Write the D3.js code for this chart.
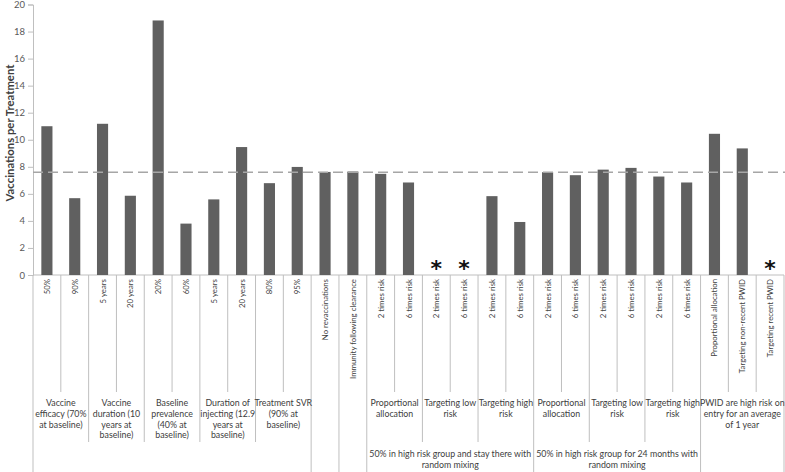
<!DOCTYPE html>
<html>
<head>
<meta charset="utf-8">
<script src="https://cdn.jsdelivr.net/npm/d3@7/dist/d3.min.js"></script>
<style>
  html, body { margin: 0; padding: 0; background: #fff; }
  svg { display: block; font-family: Lato, "Open Sans", sans-serif; }
</style>
</head>
<body>
<svg id="chart" width="785" height="472"></svg>
<script>
// ---- DATA ----
const categories = [
  "50%", "90%", "5 years", "20 years", "20%", "60%", "5 years", "20 years", "80%", "95%",
  "No revaccinations", "Immunity following clearance",
  "2 times risk", "6 times risk", "2 times risk", "6 times risk", "2 times risk", "6 times risk",
  "2 times risk", "6 times risk", "2 times risk", "6 times risk", "2 times risk", "6 times risk",
  "Proportional  allocation", "Targeting non-recent  PWID", "Targeting recent PWID"
];
// null = not shown (marked with an asterisk)
const values = [
  11.0, 5.68, 11.18, 5.86, 18.82, 3.8, 5.59, 9.46, 6.79, 7.99,
  7.62, 7.65,
  7.48, 6.84, null, null, 5.83, 3.92,
  7.6, 7.38, 7.79, 7.92, 7.28, 6.84,
  10.44, 9.36, null
];
const baselineValue = 7.6;
const yTicks = [0, 2, 4, 6, 8, 10, 12, 14, 16, 18, 20];
const yTitle = "Vaccinations per Treatment";

// second-level groups: label lines, first and last category index
const level2Groups = [
  { lines: ["Vaccine", "efficacy (70%", "at baseline)"], start: 0, end: 1 },
  { lines: ["Vaccine", "duration (10", "years at", "baseline)"], start: 2, end: 3 },
  { lines: ["Baseline", "prevalence", "(40% at", "baseline)"], start: 4, end: 5 },
  { lines: ["Duration of", "injecting (12.9", "years at", "baseline)"], start: 6, end: 7 },
  { lines: ["Treatment SVR", "(90% at", "baseline)"], start: 8, end: 9 },
  { lines: [], start: 10, end: 10 },
  { lines: [], start: 11, end: 11 },
  { lines: ["Proportional", "allocation"], start: 12, end: 13 },
  { lines: ["Targeting low", "risk"], start: 14, end: 15 },
  { lines: ["Targeting high", "risk"], start: 16, end: 17 },
  { lines: ["Proportional", "allocation"], start: 18, end: 19 },
  { lines: ["Targeting low", "risk"], start: 20, end: 21 },
  { lines: ["Targeting high", "risk"], start: 22, end: 23 },
  { lines: ["PWID are high risk on", "entry for an average", "of 1 year"], start: 24, end: 26 }
];
// third-level groups
const level3Groups = [
  { lines: [], start: 0, end: 9 },
  { lines: [], start: 10, end: 10 },
  { lines: [], start: 11, end: 11 },
  { lines: ["50% in high risk group and stay there with", "random mixing"], start: 12, end: 17 },
  { lines: ["50% in high risk group for 24 months with", "random mixing"], start: 18, end: 23 },
  { lines: [], start: 24, end: 26 }
];

// ---- LAYOUT ----
const W = 785, H = 472;
const mLeft = 33, mRight = 784, mTop = 4.5, mBottom = 275;
const row1Bottom = 392, row2Bottom = 442;

const svg = d3.select("#chart");
const idx = d3.range(categories.length);

const x = d3.scaleBand().domain(idx).range([mLeft, mRight]).paddingInner(0.6).paddingOuter(0.3);
const step = x.step();
const y = d3.scaleLinear().domain([0, 20]).range([mBottom, mTop]);

const textColor = "#404040";
const lineColor = "#bfbfbf";

// Y axis
const yAxis = svg.append("g")
  .attr("transform", `translate(${mLeft},0)`)
  .call(d3.axisLeft(y).tickValues(yTicks).tickSize(5).tickPadding(3));
yAxis.select(".domain").attr("stroke", lineColor);
yAxis.selectAll(".tick line").attr("stroke", lineColor);
yAxis.selectAll(".tick text").attr("fill", "#595959").style("font-size", "9.5px").style("font-family", "Lato, sans-serif");

const title = svg.append("text")
  .attr("transform", `translate(11,133) rotate(-90)`)
  .attr("text-anchor", "middle")
  .attr("dominant-baseline", "middle")
  .style("font-size", "12px").style("font-weight", "bold")
  .attr("fill", textColor)
  .text(yTitle);
// fit title to the reference's length (~137px)
const tl = title.node().getComputedTextLength();
if (tl > 0) title.style("font-size", (12 * 137 / tl) + "px");

// X axis line
svg.append("line")
  .attr("x1", mLeft).attr("x2", mRight).attr("y1", mBottom).attr("y2", mBottom)
  .attr("stroke", lineColor);

// Bars
svg.append("g").selectAll("rect")
  .data(idx.filter(i => values[i] !== null))
  .join("rect")
  .attr("x", i => x(i))
  .attr("width", x.bandwidth())
  .attr("y", i => y(values[i]))
  .attr("height", i => y(0) - y(values[i]))
  .attr("fill", "#606060");

// Asterisks
svg.append("g").selectAll("text")
  .data(idx.filter(i => values[i] === null))
  .join("text")
  .attr("x", i => x(i) + x.bandwidth() / 2)
  .attr("y", y(0) + 1)
  .attr("text-anchor", "middle")
  .style("font-size", "22px").style("font-weight", "bold")
  .style("font-family", "'DejaVu Sans', sans-serif")
  .attr("fill", "#111")
  .text("*");

// Dashed baseline
svg.append("line")
  .attr("x1", mLeft).attr("x2", W).attr("y1", y(baselineValue)).attr("y2", y(baselineValue))
  .attr("stroke", "#a6a6a6").attr("stroke-width", 1.5).attr("stroke-dasharray", "10,5");

// Category boundaries
function groupOf(groups, i) { return groups.findIndex(g => i >= g.start && i <= g.end); }
const boundaries = d3.range(categories.length + 1).map(b => {
  let end = H;
  if (b > 0 && b < categories.length) {
    if (groupOf(level2Groups, b - 1) === groupOf(level2Groups, b)) end = row1Bottom;
    else if (groupOf(level3Groups, b - 1) === groupOf(level3Groups, b)) end = row2Bottom;
  }
  return { xpos: mLeft + b * step, end };
});
svg.append("g").selectAll("line")
  .data(boundaries)
  .join("line")
  .attr("x1", d => d.xpos).attr("x2", d => d.xpos)
  .attr("y1", mBottom).attr("y2", d => d.end)
  .attr("stroke", lineColor);

// Level-1 labels (rotated)
svg.append("g").selectAll("text")
  .data(idx)
  .join("text")
  .attr("transform", i => `translate(${x(i) + x.bandwidth() / 2 + 3},279) rotate(-90)`)
  .attr("text-anchor", "end")
  .style("font-size", "7.8px")
  .attr("fill", textColor)
  .text(i => categories[i]);

// Level-2 / level-3 labels
function multiLine(g, groups, y0, lh) {
  g.selectAll("text")
    .data(groups.filter(d => d.lines.length))
    .join("text")
    .attr("text-anchor", "middle")
    .style("font-size", "8.8px")
    .attr("fill", textColor)
    .each(function (d) {
      const cx = mLeft + (d.start + d.end + 1) / 2 * step;
      d3.select(this).selectAll("tspan")
        .data(d.lines)
        .join("tspan")
        .attr("x", cx)
        .attr("y", (l, k) => y0 + k * lh)
        .text(l => l);
    });
}
multiLine(svg.append("g"), level2Groups, 406, 10.8);
multiLine(svg.append("g"), level3Groups, 457, 11);
</script>
</body>
</html>
